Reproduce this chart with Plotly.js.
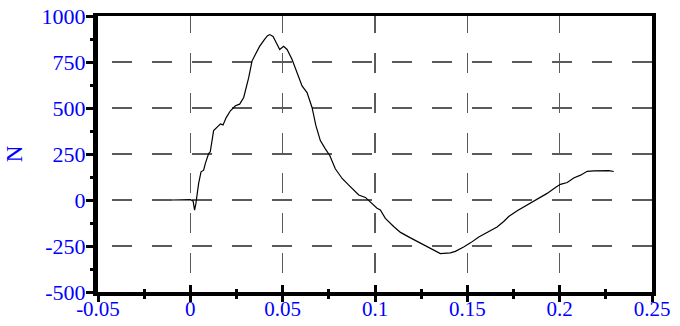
<!DOCTYPE html>
<html>
<head>
<meta charset="utf-8">
<script src="https://cdn.plot.ly/plotly-3.0.1.min.js"></script>
<style>html,body{margin:0;padding:0;background:#fff;}#chart{width:680px;height:326px;}</style>
</head>
<body>
<div id="chart"></div>
<script>
// Data
const timeS = [-0.0100,-0.0050,0.0000,0.0015,0.0023,0.0030,0.0045,0.0058,0.0072,0.0081,0.0099,0.0108,0.0126,0.0148,0.0163,0.0177,0.0195,0.0217,0.0244,0.0267,0.0289,0.0316,0.0334,0.0352,0.0375,0.0401,0.0418,0.0430,0.0448,0.0466,0.0484,0.0505,0.0524,0.0551,0.0578,0.0605,0.0632,0.0659,0.0680,0.0704,0.0731,0.0755,0.0785,0.0822,0.0858,0.0885,0.0912,0.0948,0.0975,0.1011,0.1029,0.1056,0.1101,0.1138,0.1192,0.1246,0.1300,0.1354,0.1408,0.1435,0.1480,0.1517,0.1562,0.1607,0.1661,0.1697,0.1724,0.1770,0.1824,0.1878,0.1932,0.1977,0.2004,0.2041,0.2076,0.2113,0.2149,0.2185,0.2239,0.2266,0.2293];
const forceN = [0,0,2,-5,-55,-20,90,153,162,198,252,262,377,399,413,408,449,485,512,521,557,665,755,791,835,872,893,899,889,853,818,835,818,764,692,620,584,503,404,323,278,242,170,117,81,54,27,14,-9,-45,-54,-100,-144,-176,-206,-233,-264,-291,-287,-279,-255,-233,-201,-176,-147,-117,-90,-58,-27,4,36,68,85,95,120,135,156,158,160,160,155];

const xTickVals = [-0.05,0,0.05,0.1,0.15,0.2,0.25];
const xTickText = ['-0.05','0','0.05','0.1','0.15','0.2','0.25'];
const xMinorVals = [-0.025,0.025,0.075,0.125,0.175,0.225];
const yTickVals = [-500,-250,0,250,500,750,1000];
const yTickText = ['-500','-250','0','250','500','750','1000'];
const yTitle = 'N';

const FONT = 'Liberation Serif, Times New Roman, serif';
const BLUE = '#0000ff';
const GRID = '#5a5a5a';

const traces = [
  {x: timeS, y: forceN, type: 'scatter', mode: 'lines',
   line: {color: '#000', width: 1.2}, xaxis: 'x', yaxis: 'y', hoverinfo: 'skip'},
  {x: [], y: [], type: 'scatter', mode: 'lines', xaxis: 'x2', yaxis: 'y', showlegend: false},
  {x: [], y: [], type: 'scatter', mode: 'lines', xaxis: 'x3', yaxis: 'y2', showlegend: false}
];

const layout = {
  width: 680, height: 326,
  margin: {l: 98, r: 28, t: 16, b: 34, pad: 0},
  paper_bgcolor: '#fff', plot_bgcolor: '#fff',
  showlegend: false,
  font: {family: FONT, size: 22, color: BLUE},
  xaxis: {
    range: [-0.05, 0.25], tickvals: xTickVals, ticktext: xTickText,
    showline: true, linecolor: '#000', linewidth: 4,
    ticks: 'outside', ticklen: 6, tickwidth: 3, tickcolor: '#000',
    minor: {tickvals: xMinorVals, ticks: 'outside', ticklen: 3, tickwidth: 3, tickcolor: '#000', showgrid: false},
    showgrid: true, gridcolor: GRID, gridwidth: 1.5, griddash: '17px,20px,3px,0px',
    zeroline: false, tickfont: {family: FONT, size: 21, color: BLUE},
    ticklabelstandoff: -11, fixedrange: true
  },
  xaxis2: {
    overlaying: 'x', anchor: 'y', side: 'bottom', range: [-0.05, 0.25],
    tickvals: xTickVals, ticks: 'inside', ticklen: 7, tickwidth: 3, tickcolor: '#000',
    minor: {tickvals: xMinorVals, ticks: 'inside', ticklen: 3, tickwidth: 3, tickcolor: '#000', showgrid: false},
    showticklabels: false, showline: false, showgrid: false, zeroline: false
  },
  xaxis3: {
    overlaying: 'x', anchor: 'y2', side: 'top', range: [-0.05, 0.25],
    showline: true, linecolor: '#000', linewidth: 3, ticks: '',
    showticklabels: false, showgrid: false, zeroline: false
  },
  yaxis: {
    range: [-500, 1000], tickvals: yTickVals, ticktext: yTickText,
    showline: true, linecolor: '#000', linewidth: 5,
    ticks: 'outside', ticklen: 7, tickwidth: 3, tickcolor: '#000',
    minor: {dtick: 125, tick0: 0, ticks: 'outside', ticklen: 3, tickwidth: 3, tickcolor: '#000', showgrid: false},
    showgrid: true, gridcolor: GRID, gridwidth: 1.5, griddash: '0px,14px,20px,6px',
    zeroline: false, tickfont: {family: FONT, size: 22, color: BLUE},
    ticklabelstandoff: -4,
    title: {text: yTitle, font: {family: FONT, size: 23, color: BLUE}, standoff: 14},
    automargin: false, fixedrange: true
  },
  yaxis2: {
    overlaying: 'y', anchor: 'x3', side: 'right', range: [-500, 1000],
    showline: true, linecolor: '#000', linewidth: 4, ticks: '',
    showticklabels: false, showgrid: false, zeroline: false
  }
};

Plotly.newPlot('chart', traces, layout, {staticPlot: true, displayModeBar: false});
</script>
</body>
</html>
